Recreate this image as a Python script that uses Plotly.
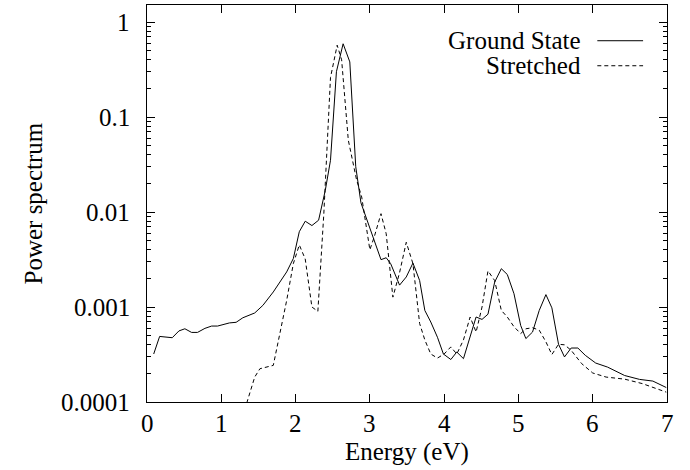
import math
import plotly.graph_objects as go

# Ground State spectrum
gs_energy = [0.09, 0.17, 0.34, 0.43, 0.51, 0.60, 0.68, 0.78, 0.87, 0.95, 1.11, 1.20, 1.29, 1.45,
             1.56, 1.70, 1.88, 1.97, 2.05, 2.13, 2.22, 2.31, 2.40, 2.47, 2.55, 2.64, 2.73, 2.81,
             2.88, 3.04, 3.15, 3.22, 3.28, 3.40, 3.49, 3.58, 3.67, 3.74, 3.82, 3.91, 3.99, 4.09,
             4.17, 4.26, 4.35, 4.43, 4.51, 4.59, 4.68, 4.77, 4.85, 4.94, 5.03, 5.10, 5.19, 5.28,
             5.37, 5.45, 5.54, 5.62, 5.71, 5.80, 5.90, 6.04, 6.20, 6.43, 6.63, 6.81, 6.99]
gs_power = [3.2e-4, 4.9e-4, 4.75e-4, 5.6e-4, 5.9e-4, 5.4e-4, 5.4e-4, 5.96e-4, 6.3e-4, 6.3e-4,
            6.8e-4, 6.9e-4, 7.7e-4, 8.65e-4, 1.04e-3, 1.44e-3, 2.34e-3, 3.24e-3, 6.2e-3, 8.0e-3,
            7.2e-3, 8.2e-3, 0.0169, 0.035, 0.30, 0.59, 0.38, 0.03, 0.0125, 5.5e-3, 3.15e-3,
            3.3e-3, 2.86e-3, 1.7e-3, 2.07e-3, 2.9e-3, 1.9e-3, 9.2e-4, 6.95e-4, 4.8e-4, 3.2e-4,
            2.8e-4, 3.36e-4, 2.86e-4, 4.8e-4, 7.85e-4, 7.4e-4, 8.4e-4, 1.83e-3, 2.53e-3, 2.2e-3,
            1.38e-3, 6.4e-4, 4.65e-4, 5.45e-4, 9.2e-4, 1.35e-3, 9.8e-4, 4.05e-4, 2.98e-4, 3.7e-4,
            3.7e-4, 3.1e-4, 2.57e-4, 2.33e-4, 1.9e-4, 1.73e-4, 1.66e-4, 1.42e-4]

# Stretched spectrum
st_energy = [1.26, 1.45, 1.52, 1.70, 1.88, 1.97, 2.05, 2.13, 2.22, 2.30, 2.38, 2.47, 2.56, 2.62,
             2.71, 2.82, 2.89, 3.00, 3.06, 3.15, 3.22, 3.31, 3.40, 3.49, 3.58, 3.67, 3.74, 3.82,
             3.91, 4.00, 4.09, 4.17, 4.26, 4.35, 4.43, 4.51, 4.59, 4.68, 4.77, 4.85, 4.94, 5.03,
             5.10, 5.19, 5.28, 5.37, 5.45, 5.54, 5.62, 5.71, 5.85, 6.00, 6.18, 6.43, 6.67, 6.99]
st_power = [6.0e-5, 1.83e-4, 2.24e-4, 2.43e-4, 1.17e-3, 2.86e-3, 4.5e-3, 3.2e-3, 1.0e-3, 9.0e-4,
            9.5e-3, 0.26, 0.57, 0.40, 0.057, 0.022, 0.0144, 4.0e-3, 5.5e-3, 9.6e-3, 5.9e-3,
            1.27e-3, 2.3e-3, 4.8e-3, 2.86e-3, 6.7e-4, 4.5e-4, 3.2e-4, 2.9e-4, 3.2e-4, 3.8e-4,
            3.2e-4, 4.5e-4, 7.85e-4, 5.45e-4, 1.0e-3, 2.4e-3, 1.9e-3, 9.2e-4, 7.85e-4, 6.2e-4,
            5.25e-4, 5.9e-4, 6.05e-4, 5.7e-4, 4.3e-4, 3.16e-4, 4.05e-4, 4.0e-4, 3.5e-4, 2.54e-4,
            2.02e-4, 1.83e-4, 1.74e-4, 1.56e-4, 1.27e-4]

x_ticks = [0, 1, 2, 3, 4, 5, 6, 7]
y_tick_vals = [1e-4, 1e-3, 1e-2, 1e-1, 1]
y_tick_text = ["0.0001", "0.001", "0.01", "0.1", "1"]
series_names = ["Ground State", "Stretched"]
x_title = "Energy (eV)"
y_title = "Power spectrum"

FONT = "Liberation Serif"
FS = 25
TXT = dict(family=FONT, size=FS, color="black")
fig = go.Figure()
fig.add_trace(go.Scatter(x=gs_energy, y=gs_power, mode="lines", name=series_names[0],
                         line=dict(color="black", width=1), showlegend=False))
fig.add_trace(go.Scatter(x=st_energy, y=st_power, mode="lines", name=series_names[1],
                         line=dict(color="black", width=1, dash="4px,3px"), showlegend=False))

minor_vals = [m * 10 ** e for e in range(-4, 0) for m in range(2, 10)]

axis_common = dict(showline=True, linecolor="black", linewidth=1, mirror="ticks",
                   ticks="inside", ticklen=8, tickcolor="black", showgrid=False,
                   zeroline=False, showticklabels=False)
fig.update_xaxes(range=[0, 7], tickvals=x_ticks, **axis_common)
fig.update_yaxes(type="log", range=[-4, 0.179], tickvals=y_tick_vals,
                 minor=dict(tickvals=minor_vals, ticks="inside", ticklen=4, tickcolor="black", showgrid=False),
                 **axis_common)

# tick labels (gnuplot-like spacing from the axes)
for v in x_ticks:
    fig.add_annotation(xref="x", yref="paper", x=v, y=0, yshift=-21, text=str(v), showarrow=False,
                       xanchor="center", yanchor="middle", font=TXT)
for v, t in zip(y_tick_vals, y_tick_text):
    fig.add_annotation(xref="paper", yref="y", x=0, y=math.log10(v), xshift=-15, text=t, showarrow=False,
                       xanchor="right", yanchor="middle", font=TXT)

# axis titles
fig.add_annotation(xref="paper", yref="paper", x=0.5, y=0, yshift=-50, text=x_title, showarrow=False,
                   xanchor="center", yanchor="middle", font=TXT)
fig.add_annotation(xref="paper", yref="paper", x=0, y=0.5, xshift=-114, text=y_title, showarrow=False,
                   textangle=-90, xanchor="center", yanchor="middle", font=TXT)

# gnuplot-style key: text right-aligned, line sample on the right
for i, name in enumerate(series_names):
    ypos = 0.91 - i * 0.063
    fig.add_annotation(xref="paper", yref="paper", x=0.838, y=ypos, text=name, showarrow=False,
                       xanchor="right", yanchor="middle", font=TXT)
    fig.add_shape(type="line", xref="paper", yref="paper", x0=0.866, x1=0.954, y0=ypos, y1=ypos,
                  line=dict(color="black", width=1, dash="solid" if i == 0 else "4px,3px"))

fig.update_layout(width=690, height=470, margin=dict(l=147, r=23, t=5, b=68),
                  plot_bgcolor="white", paper_bgcolor="white", font=dict(family=FONT),
                  hovermode=False)
fig.write_html("out.html", config={"displayModeBar": False, "staticPlot": True},
               post_script="document.body.style.margin='0';document.body.style.overflow='hidden';")
